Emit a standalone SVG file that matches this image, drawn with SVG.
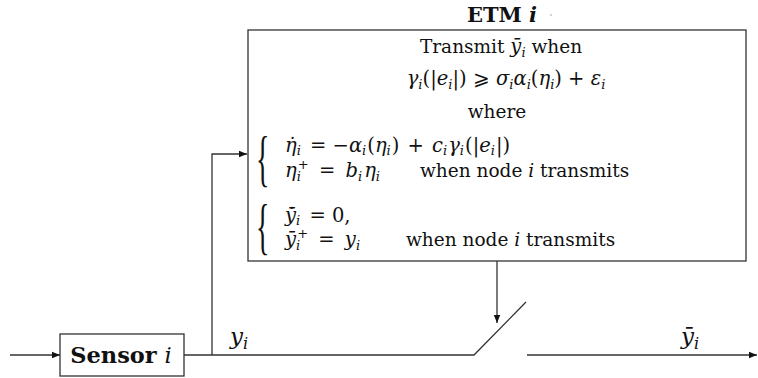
<svg xmlns="http://www.w3.org/2000/svg" width="758" height="378" viewBox="0 0 758 378">
<style>
.t{font-family:"DejaVu Serif","Liberation Serif",serif;font-size:18.5px;fill:#111}
.c{text-anchor:middle}
.m{font-style:italic}
.s{font-style:italic;font-size:13px}
.p{font-size:13px}
.b{font-weight:bold}
.mt{font-size:19.5px}
.br{font-family:"Liberation Serif",serif;font-size:28px;fill:#111}
.ln{fill:none;stroke:#333;stroke-width:1.3}
.box{fill:#fff;stroke:#333;stroke-width:1.3}
</style>
<defs>
<marker id="ar" viewBox="0 0 10 10" refX="10" refY="5" markerWidth="8" markerHeight="8" markerUnits="userSpaceOnUse" orient="auto">
<path d="M0,1 L10,5 L0,9 z" fill="#111"/>
</marker>
</defs>
<g id="connectors">
<line class="ln" x1="10" y1="355" x2="60" y2="355" marker-end="url(#ar)"/>
<polyline class="ln" points="184,355 474,355 526,302"/>
<polyline class="ln" points="212,355 212,154 247,154" marker-end="url(#ar)"/>
<line class="ln" x1="497" y1="261" x2="497" y2="323" marker-end="url(#ar)"/>
<line class="ln" x1="527" y1="355" x2="757" y2="355" marker-end="url(#ar)"/>
<text class="t" x="230" y="344" style="font-size:23px"><tspan class="m">y</tspan><tspan class="s" dy="5" style="font-size:16px">i</tspan></text>
<text class="t" x="681" y="344" style="font-size:23px"><tspan class="m">ȳ</tspan><tspan class="s" dy="5" style="font-size:16px">i</tspan></text>
</g>
<g id="sensor">
<rect class="box" x="60" y="334" width="124" height="42"/>
<text class="t c b" x="121" y="363" style="font-size:22.5px">Sensor <tspan class="m" style="font-weight:normal">i</tspan></text>
</g>
<g id="etm">
<text class="t c b" x="502" y="22" style="font-size:21px">ETM <tspan class="m">i</tspan></text>
<circle cx="551" cy="15" r="0.7" fill="#888"/>
<rect class="box" x="248" y="30" width="498" height="231"/>
<text class="t c" x="501" y="53">Transmit <tspan class="m mt">ȳ</tspan><tspan class="s" dy="4">i</tspan><tspan dy="-4"> when</tspan></text>
<text class="t c mt" x="506" y="85"><tspan class="m">γ</tspan><tspan class="s" dy="4">i</tspan><tspan dy="-4">(|</tspan><tspan class="m">e</tspan><tspan class="s" dy="4">i</tspan><tspan dy="-4">|) ⩾ </tspan><tspan class="m">σ</tspan><tspan class="s" dy="4">i</tspan><tspan class="m" dy="-4">α</tspan><tspan class="s" dy="4">i</tspan><tspan dy="-4">(</tspan><tspan class="m">η</tspan><tspan class="s" dy="4">i</tspan><tspan dy="-4">) + </tspan><tspan class="m">ε</tspan><tspan class="s" dy="4">i</tspan></text>
<text class="t c" x="497" y="118">where</text>
<text class="br" x="256" y="81.5" transform="matrix(1,0,0,2.2,0,0)">{</text>
<text class="t mt" x="285" y="152"><tspan class="m">η̇</tspan><tspan class="s" dy="3">i</tspan><tspan dy="-3" dx="3"> = −</tspan><tspan class="m">α</tspan><tspan class="s" dy="3">i</tspan><tspan dy="-3" dx="1">(</tspan><tspan class="m">η</tspan><tspan class="s" dy="3">i</tspan><tspan dy="-3" dx="1">)</tspan><tspan dx="2"> + </tspan><tspan class="m" dx="2">c</tspan><tspan class="s" dy="3">i</tspan><tspan class="m" dy="-3" dx="1">γ</tspan><tspan class="s" dy="3">i</tspan><tspan dy="-3" dx="1">(|</tspan><tspan class="m">e</tspan><tspan class="s" dy="3">i</tspan><tspan dy="-3" dx="1">|)</tspan></text>
<text class="t mt" x="285" y="177"><tspan class="m">η</tspan><tspan class="s" dy="4">i</tspan><tspan class="p" dy="-12" dx="-3">+</tspan><tspan dy="8" dx="4"> = </tspan><tspan class="m" dx="4">b</tspan><tspan class="s" dy="4">i</tspan><tspan class="m" dy="-4" dx="2">η</tspan><tspan class="s" dy="4">i</tspan></text>
<text class="t" x="420" y="177">when node <tspan class="m">i</tspan> transmits</text>
<text class="br" x="256" y="112.3" transform="matrix(1,0,0,2.2,0,0)">{</text>
<text class="t mt" x="285" y="222"><tspan class="m">ȳ̇</tspan><tspan class="s" dy="3">i</tspan><tspan dy="-3" dx="3"> = 0,</tspan></text>
<text class="t mt" x="285" y="246"><tspan class="m">ȳ</tspan><tspan class="s" dy="4">i</tspan><tspan class="p" dy="-12" dx="-3">+</tspan><tspan dy="8" dx="4"> = </tspan><tspan class="m" dx="4">y</tspan><tspan class="s" dy="4">i</tspan></text>
<text class="t" x="406" y="246">when node <tspan class="m">i</tspan> transmits</text>
</g>
</svg>
